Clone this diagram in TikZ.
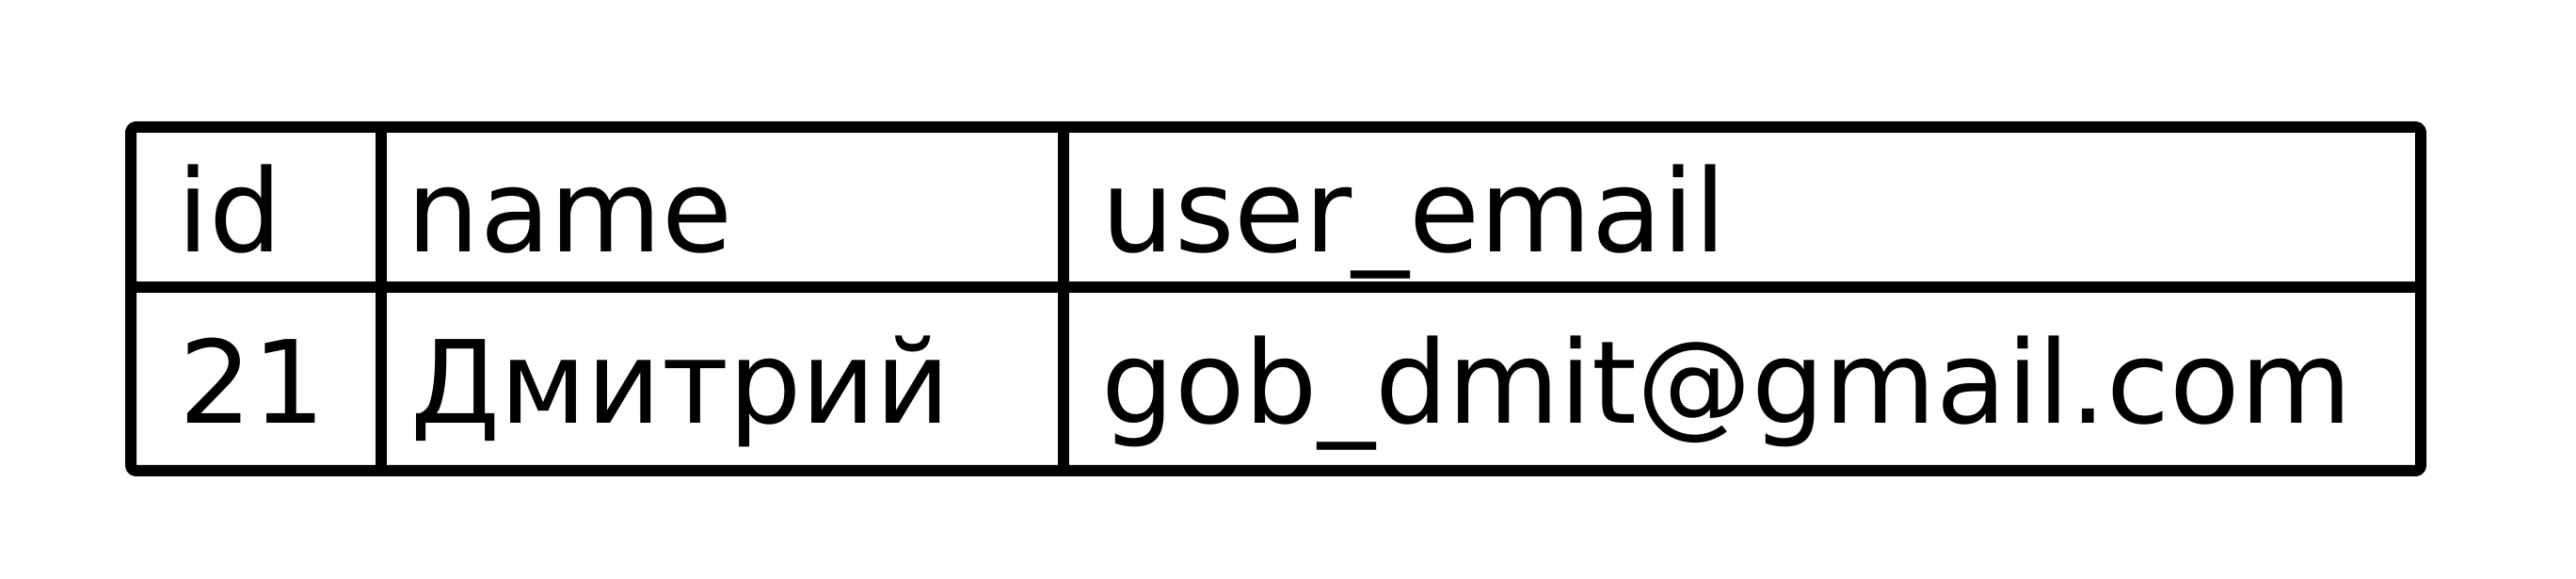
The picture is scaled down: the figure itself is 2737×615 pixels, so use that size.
\documentclass[tikz,border=0pt]{standalone}
\usepackage{fontspec}
\setmainfont{DejaVu Sans}
\begin{document}
\begin{tikzpicture}[x=0.1mm,y=-0.1mm,
    cella/.style={anchor=base west,inner sep=0pt,font=\fontsize{34.7}{40}\selectfont},
    bordo/.style={line width=1.2mm,line join=round,line cap=round}]

    \useasboundingbox (0,0) rectangle (2737,615);

    % Bordo e righe
    \draw[bordo,rounded corners=0.5mm] (139,135) rectangle (2572,500);
    \draw[bordo] (139,305) -- (2572,305);
    \foreach \c in {405,1130} {
        \draw[bordo] (\c,135) -- (\c,500);
    }

    % Intestazione
    \node[cella] (hid) at (188,268) {id};
    \node[cella] (hname) at (432,268) {name};
    \node[cella] (hmail) at (1170,268) {user\_email};

    % Dati
    \node[cella] (vid) at (190,450) {21};
    \node[cella] (vname) at (436,450) {Дмитрий};
    \node[cella] (vmail) at (1170,450) {gob\_dmit@gmail.com};

\end{tikzpicture}
\end{document}
